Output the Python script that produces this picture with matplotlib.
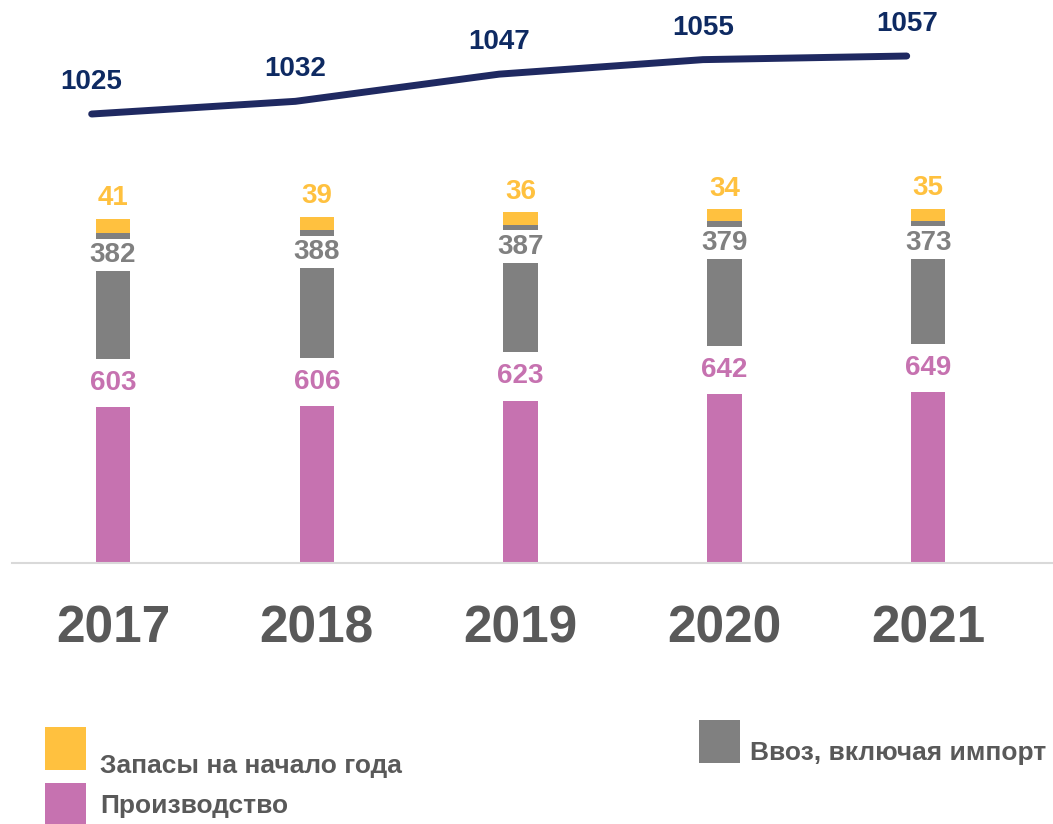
import numpy as np
import matplotlib.pyplot as plt

plt.rcParams['font.family'] = ['Liberation Sans', 'DejaVu Sans']

# данные
years = ['2017', '2018', '2019', '2020', '2021']
proizvodstvo = [603, 606, 623, 642, 649]
vvoz = [382, 388, 387, 379, 373]
zapasy = [41, 39, 36, 34, 35]
resursy = [1025, 1032, 1047, 1055, 1057]

c_yel = '#FFC13F'
c_gray = '#808080'
c_pink = '#C672B0'
c_navy = '#1F2961'
c_text = '#595959'

fig = plt.figure(figsize=(10.53, 8.24), dpi=100)
ax = fig.add_axes([12 / 1053, 261 / 824, 1041 / 1053, 563 / 824])

x = np.arange(len(years))
w = 0.17
p = np.array(proizvodstvo)
v = np.array(vvoz)
z = np.array(zapasy)

b1 = ax.bar(x, p, w, color=c_pink, zorder=2)
b2 = ax.bar(x, v, w, bottom=p, color=c_gray, zorder=2)
b3 = ax.bar(x, z, w, bottom=p + v, color=c_yel, zorder=2)

ax.set_xlim(-0.496, 4.613)
ax.set_ylim(0, 1680)

# подписи значений
for i in range(len(years)):
    ax.annotate(str(p[i]), xy=(x[i], p[i]), xytext=(0, -16), textcoords='offset points',
                ha='center', va='center', fontsize=20, fontweight='bold', color=c_pink, zorder=5,
                bbox=dict(boxstyle='square,pad=0.4', fc='white', ec='none'))
    ax.annotate(str(v[i]), xy=(x[i], p[i] + v[i]), xytext=(0, -16), textcoords='offset points',
                ha='center', va='center', fontsize=20, fontweight='bold', color=c_gray, zorder=5,
                bbox=dict(boxstyle='square,pad=0.12', fc='white', ec='none'))
    ax.annotate(str(z[i]), xy=(x[i], p[i] + v[i] + z[i]), xytext=(0, 15), textcoords='offset points',
                ha='center', va='center', fontsize=20, fontweight='bold', color=c_yel, zorder=5)

for s in ['top', 'left', 'right']:
    ax.spines[s].set_visible(False)
ax.spines['bottom'].set_color('#D9D9D9')
ax.spines['bottom'].set_linewidth(1.5)
ax.set_yticks([])
ax.set_xticks(x)
ax.set_xticklabels(years, fontsize=37, fontweight='bold', color=c_text)
ax.tick_params(axis='x', length=0, pad=30)

# линия ресурсов (вторая ось)
ax2 = ax.twinx()
ax2.set_ylim(777.3, 1087.9)
ax2.axis('off')
xl = x - 0.105
ax2.plot(xl, resursy, color=c_navy, lw=5, solid_capstyle='round', zorder=3)
for i in range(len(years)):
    ax2.annotate(str(resursy[i]), xy=(xl[i], resursy[i]), xytext=(0, 23), textcoords='offset points',
                 ha='center', va='center', fontsize=20, fontweight='bold', color='#0E2A62')

fs = 19
fpx = fs * 100 / 72
hh = (43 / fpx - 0.245) / 0.65
leg_kw = dict(frameon=False, prop={'weight': 'bold', 'size': fs}, labelcolor=c_text,
              handlelength=41 / fpx, handleheight=hh, borderpad=0, borderaxespad=0,
              loc='upper left')
leg1 = fig.legend([b3, b1], ['Запасы на начало года', 'Производство'],
                  bbox_to_anchor=(45 / 1053, 1 - 727 / 824), labelspacing=13 / fpx,
                  handletextpad=14 / fpx, **leg_kw)
leg2 = fig.legend([b2], ['Ввоз, включая импорт'],
                  bbox_to_anchor=(699 / 1053, 1 - 720 / 824), handletextpad=10 / fpx, **leg_kw)
# подписи легенды чуть ниже плашек
leg1.get_texts()[0].set_y(-16)
leg2.get_texts()[0].set_y(-10)

fig.savefig('out.png', dpi=100)
